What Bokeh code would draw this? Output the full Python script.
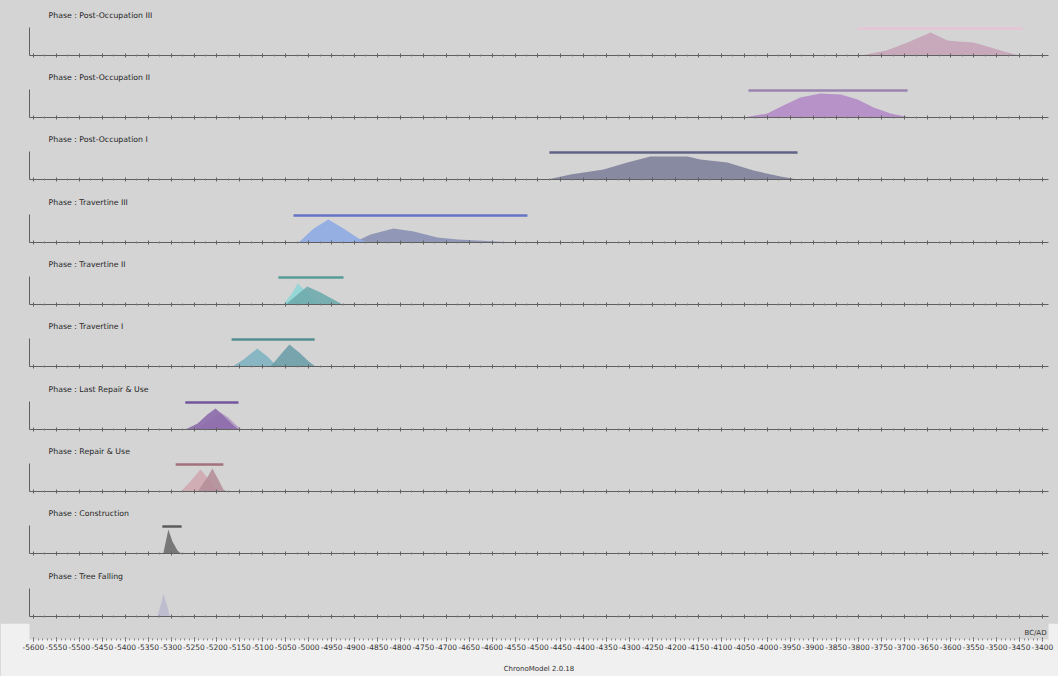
from bokeh.plotting import figure
from bokeh.layouts import column
from bokeh.models import Range1d, Label, FixedTicker
from bokeh.embed import file_html
from bokeh.resources import INLINE

# ---------------- data ----------------
phases = ["Post-Occupation III", "Post-Occupation II", "Post-Occupation I",
          "Travertine III", "Travertine II", "Travertine I",
          "Last Repair & Use", "Repair & Use", "Construction", "Tree Falling"]

# phase intervals (BC/AD years); None = no interval drawn
interval_start = [-3803, -4041, -4475, -5033, -5066, -5168, -5269, -5290, -5319, None]
interval_end = [-3443, -3694, -3934, -4523, -4924, -4987, -5153, -5186, -5277, None]

# density curves (years, relative density)
poIII_years = [-3795, -3740, -3694, -3644, -3607, -3585, -3550, -3513, -3476, -3448]
poIII_dens = [0, 5, 13, 23, 15, 14, 13, 8, 3, 0]

poII_years = [-4052, -4000, -3965, -3928, -3884, -3840, -3803, -3768, -3731, -3688]
poII_dens = [0, 4, 12, 20, 24, 23, 18, 10, 4, 0]

poI_years = [-4479, -4429, -4357, -4305, -4255, -4174, -4146, -4087, -4030, -3971, -3934]
poI_dens = [0, 5, 10, 17, 23, 23, 20, 17, 9, 3, 0]

travIIIa_years = [-5022, -4989, -4957, -4924, -4891, -4872]
travIIIa_dens = [0, 14, 23, 14, 4, 0]
travIIIb_years = [-4902, -4865, -4815, -4771, -4719, -4675, -4610, -4575, -4560]
travIIIb_dens = [0, 8, 14, 11, 5, 3, 1.5, 0.5, 0]

travIIa_years = [-5055, -5035, -5024, -5010, -4995, -4981, -4970]
travIIa_dens = [0, 12, 21, 15, 8, 2, 0]
travIIb_years = [-5050, -5024, -5003, -4974, -4946, -4926]
travIIb_dens = [0, 10, 18, 12, 5, 0]

travIa_years = [-5166, -5142, -5112, -5090, -5077, -5061, -5050]
travIa_dens = [0, 7, 18, 10, 4, 1, 0]
travIb_years = [-5083, -5061, -5042, -5018, -5000, -4985]
travIb_dens = [0, 12, 22, 13, 5, 0]

lastRepa_years = [-5269, -5242, -5221, -5203, -5186, -5166, -5153]
lastRepa_dens = [0, 6, 15, 21, 14, 5, 0]
lastRepb_years = [-5247, -5214, -5192, -5175, -5157, -5146]
lastRepb_dens = [0, 10, 17, 12, 4, 0]

repa_years = [-5279, -5258, -5236, -5221, -5207, -5197]
repa_dens = [0, 10, 22, 14, 6, 0]
repb_years = [-5242, -5221, -5210, -5197, -5186, -5177]
repb_dens = [0, 14, 23, 12, 2, 0]

constr_years = [-5317, -5310, -5306, -5297, -5286, -5279]
constr_dens = [0, 15, 24, 12, 3, 0]

tree_years = [-5330, -5321, -5317, -5308, -5303]
tree_dens = [0, 14, 23, 10, 0]

curves = [
    [(poIII_years, poIII_dens, "#c7a3b8")],
    [(poII_years, poII_dens, "#b38bc6")],
    [(poI_years, poI_dens, "#7f829c")],
    [(travIIIb_years, travIIIb_dens, "#8a90b3"), (travIIIa_years, travIIIa_dens, "#8fabe3")],
    [(travIIa_years, travIIa_dens, "#8fd6d6"), (travIIb_years, travIIb_dens, "#6fabac")],
    [(travIa_years, travIa_dens, "#7fb2c0"), (travIb_years, travIb_dens, "#6d9ea8")],
    [(lastRepb_years, lastRepb_dens, "#b29bc4"), (lastRepa_years, lastRepa_dens, "#8c6cab")],
    [(repa_years, repa_dens, "#cfa7b0"), (repb_years, repb_dens, "#b48f99")],
    [(constr_years, constr_dens, "#6e6e6e")],
    [(tree_years, tree_dens, "#babace")],
]
interval_colors = ["#e6c3d3", "#9880ae", "#5a5e80", "#5f6fc4", "#4f9894",
                   "#4c8a8e", "#6b4f98", "#a06a78", "#555555", None]

tick_values = list(range(-5600, -3350, 50))
tick_labels = {v: str(v) for v in tick_values}
panel_minor_values = list(range(-5575, -3390, 50))
strip_minor_values = list(range(-5600, -3390, 10))

# ---------------- styling ----------------
W = 1058
panel_heights = [62, 62, 63, 62, 62, 63, 62, 62, 63, 62]
FRAME_H = 55          # panel top -> baseline
BG = "#d4d4d4"
STRIP = "#f0f0f0"
AX = "#606060"
FONT = "DejaVu Sans"
INTERVAL_LEVEL = 27
LABEL_LEVEL = 40

x_range = Range1d(-5608.7, -3386.8)

figs = []
for i, phase in enumerate(phases):
    h = panel_heights[i]
    p = figure(width=W, height=h, x_range=x_range, y_range=Range1d(0, FRAME_H),
               output_backend="svg", toolbar_location=None,
               min_border_left=29, min_border_right=10, min_border_top=0,
               min_border_bottom=h - FRAME_H,
               background_fill_color=None, border_fill_color=BG, outline_line_color=None)
    p.grid.visible = False
    xa = p.xaxis[0]
    xa.ticker = FixedTicker(ticks=tick_values, minor_ticks=panel_minor_values)
    xa.major_label_overrides = {v: "" for v in tick_values}
    xa.major_label_text_font_size = "4px"
    xa.major_label_standoff = 0
    xa.major_tick_in = 2
    xa.major_tick_out = 2
    xa.minor_tick_in = 1
    xa.minor_tick_out = 1
    xa.axis_line_color = AX
    xa.major_tick_line_color = AX
    xa.minor_tick_line_color = "#7a7a7a"
    ya = p.yaxis[0]
    ya.ticker = FixedTicker(ticks=[])
    ya.bounds = (0, 28)
    ya.major_tick_out = 0
    ya.minor_tick_out = 0
    ya.axis_line_color = AX

    for yrs, dens, col in curves[i]:
        p.varea(x=yrs, y1=[0] * len(yrs), y2=dens, fill_color=col, fill_alpha=0.9)

    if interval_start[i] is not None:
        p.segment(x0=[interval_start[i]], y0=[INTERVAL_LEVEL], x1=[interval_end[i]],
                  y1=[INTERVAL_LEVEL], line_color=interval_colors[i], line_width=2.5,
                  line_alpha=0.95)

    p.add_layout(Label(x=19, y=LABEL_LEVEL, x_units="screen", y_units="data",
                       text="Phase : " + phase, text_font=FONT, text_font_size="7.8px",
                       text_color="#262626", text_baseline="middle", text_align="left"))
    figs.append(p)

b = figure(width=W, height=53, x_range=x_range, y_range=Range1d(0, 16),
           output_backend="svg", toolbar_location=None,
           min_border_left=29, min_border_right=10, min_border_top=0, min_border_bottom=37,
           background_fill_color=None, border_fill_color=STRIP, outline_line_color=None)
b.grid.visible = False
b.yaxis.visible = False
bx = b.xaxis[0]
bx.ticker = FixedTicker(ticks=tick_values, minor_ticks=strip_minor_values)
bx.major_label_overrides = tick_labels
bx.major_label_text_font = FONT
bx.major_label_text_font_size = "7.5px"
bx.major_label_text_color = "#333333"
bx.major_label_standoff = 2
bx.axis_line_color = None
bx.major_tick_in = 2
bx.major_tick_out = 2
bx.minor_tick_in = 1
bx.minor_tick_out = 1
bx.major_tick_line_color = "#555555"
bx.minor_tick_line_color = "#888888"
bx.axis_label = "ChronoModel 2.0.18"
bx.axis_label_text_font = FONT
bx.axis_label_text_font_size = "7px"
bx.axis_label_text_font_style = "normal"
bx.axis_label_text_color = "#333333"
bx.axis_label_standoff = 12
b.add_layout(Label(x=1006, y=7, x_units="screen", y_units="data", text="BC/AD",
                   text_font=FONT, text_font_size="7px", text_color="#333333",
                   text_align="center", text_baseline="middle"))
figs.append(b)

layout = column(*figs, spacing=0, styles={"background-color": BG})
open("out.html", "w").write(file_html(layout, INLINE))
